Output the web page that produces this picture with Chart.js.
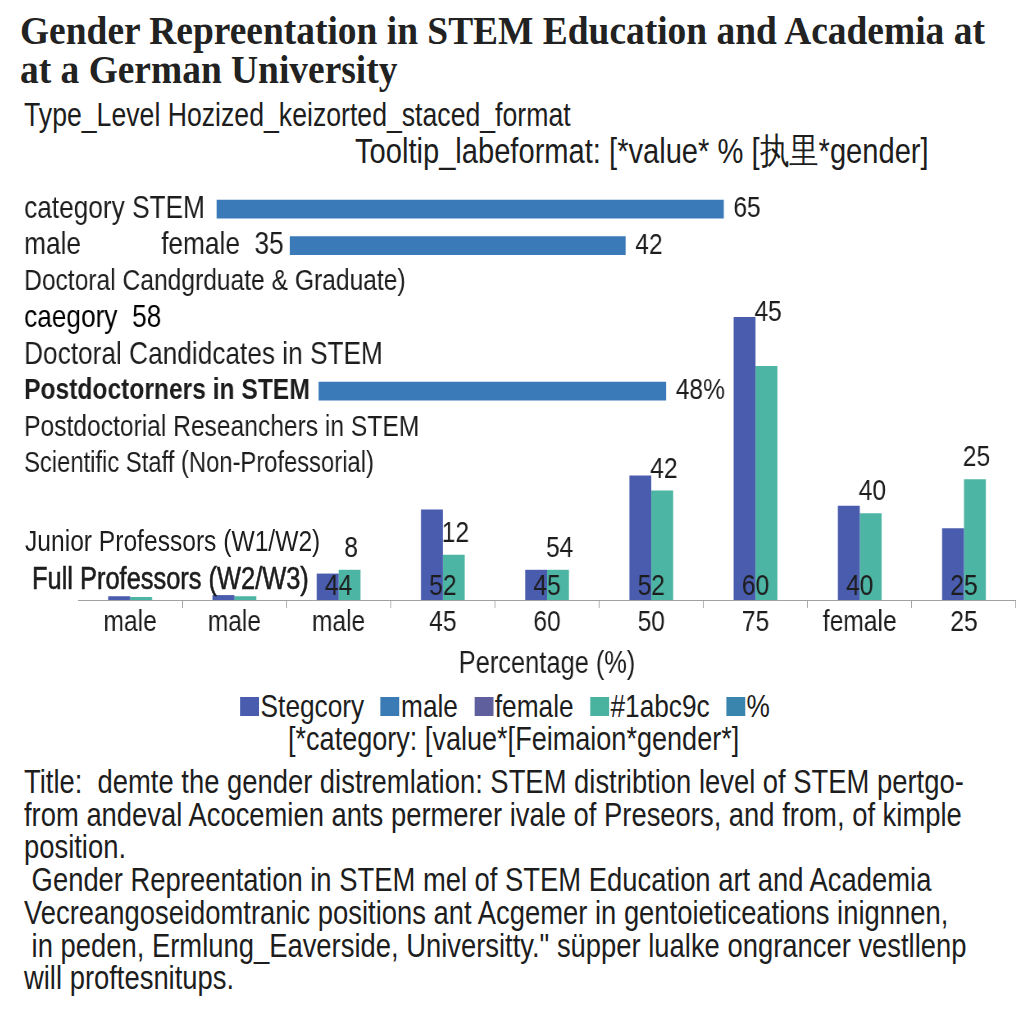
<!DOCTYPE html>
<html>
<head>
<meta charset="utf-8">
<title>Gender Representation in STEM</title>
<script src="https://cdn.jsdelivr.net/npm/chart.js@4.4.0/dist/chart.umd.min.js"></script>
<style>
  body { margin: 0; background: #fff; }
  #page { position: relative; width: 1024px; height: 1024px; overflow: hidden;
          font-family: "Liberation Sans", Arial, sans-serif; color: #1d1d1d; }
  /* the reference lettering is a narrow sans: squeeze Liberation Sans horizontally */
  .t { position: absolute; white-space: pre; line-height: 1; transform: scaleX(0.82); transform-origin: 0 0; }
  #title { position: absolute; left: 20px; top: 11px; white-space: pre; font-family: "Liberation Serif", serif;
           font-weight: bold; font-size: 39px; line-height: 39px; color: #222;
           transform: scaleX(0.96); transform-origin: 0 0; }
  #hWrap { position: absolute; left: 20px; top: 191px; width: 949px; height: 291px;
           transform: scaleX(0.82); transform-origin: 0 0; }
  #vWrap { position: absolute; left: 78px; top: 298px; width: 1144px; height: 384px;
           transform: scaleX(0.82); transform-origin: 0 0; }
  #legend { position: absolute; left: 0; width: 1010px; top: 690px; display: flex; justify-content: center;
            font-size: 32px; line-height: 1; transform: scaleX(0.82); transform-origin: 505px 0; }
  #legend span { display: inline-flex; align-items: center; margin: 0 10px; }
  #legend i { display: inline-block; width: 23px; height: 19px; margin-right: 2px; }
  #notes { left: 24px; top: 766px; font-size: 33px; line-height: 32.7px; transform: scaleX(0.83); }
</style>
</head>
<body>
<div id="page">
  <div id="title">Gender Repreentation in STEM Education and Academia at
at a German University</div>
  <div class="t" style="left:24px; top:99px; font-size:32.5px;">Type_Level Hozized_keizorted_staced_format</div>
  <div class="t" style="left:355px; top:134px; font-size:35.5px;">Tooltip_labeformat: [*value* % [执里*gender]</div>

  <div id="hWrap"><canvas id="hChart"></canvas></div>
  <div id="vWrap"><canvas id="vChart"></canvas></div>

  <div class="t" style="left:25px; top:526px; font-size:30px;">Junior Professors (W1/W2)</div>
  <div class="t" style="left:32px; top:563px; font-size:31px; -webkit-text-stroke:0.6px #1d1d1d;">Full Professors (W2/W3)</div>

  <div id="legend"></div>
  <div class="t" style="left:288px; top:722px; font-size:33px;">[*category: [value*[Feimaion*gender*]</div>

  <div id="notes" class="t">Title:  demte the gender distremlation: STEM distribtion level of STEM pertgo-
from andeval Acocemien ants permerer ivale of Preseors, and from, of kimple
position.
 Gender Repreentation in STEM mel of STEM Education art and Academia
Vecreangoseidomtranic positions ant Acgemer in gentoieticeations inignnen,
 in peden, Ermlung_Eaverside, Universitty." süpper lualke ongrancer vestllenp
will proftesnitups.</div>
</div>

<script>
// top block: category rows and their horizontal bars
const rowLabels = ['category STEM', 'male           female  35', 'Doctoral Candgrduate & Graduate)', 'caegory  58',
                   'Doctoral Candidcates in STEM', 'Postdoctorners in STEM', 'Postdoctorial Reseanchers in STEM',
                   'Scientific Staff (Non-Professorial)'];
const rowBars = [[25.3, 90.4], [34.7, 77.8], null, null, null, [38.4, 83], null, null];
const rowBarLabels = ['65', '42', '', '', '', '48%', '', ''];

// bottom block: grouped bars
const positions = ['male', 'male', 'male', '45', '60', '50', '75', 'female', '25'];
const maleShare = [1, 1.3, 7, 24, 8, 33, 75, 25, 19];
const femaleShare = [0.8, 1, 8, 12, 8, 29, 62, 23, 32];
const topLabels = ['', '', '8', '12', '54', '42', '45', '40', '25'];
const baseLabels = ['', '', '44', '52', '45', '52', '60', '40', '25'];

// legend entries
const legendNames = ['Stegcory', 'male', 'female', '#1abc9c', '%'];
const legendColors = ['#4a5cad', '#3a7ab5', '#5e5f9c', '#4ab3a0', '#3a85ae'];

const FONT = '"Liberation Sans", Arial, sans-serif';
Chart.defaults.font.family = FONT;
Chart.defaults.color = '#1d1d1d';
Chart.defaults.animation = false;

const legend = document.getElementById('legend');
legendNames.forEach((name, i) => {
  const s = document.createElement('span');
  s.innerHTML = '<i style="background:' + legendColors[i] + '"></i>' + name;
  legend.appendChild(s);
});

// labels next to the horizontal bars
const rowValues = {
  id: 'rowValues',
  afterDatasetsDraw(chart) {
    const ctx = chart.ctx;
    ctx.save();
    ctx.font = '30px ' + FONT;
    ctx.fillStyle = '#1d1d1d';
    ctx.textBaseline = 'middle';
    chart.getDatasetMeta(0).data.forEach((bar, i) => {
      if (!rowBarLabels[i]) return;
      ctx.fillText(rowBarLabels[i], bar.x + 12, bar.y);
    });
    ctx.restore();
  }
};

const rowFontSize = [32, 32, 30, 32, 32, 30, 30, 29];
const rowBold = [false, false, false, false, false, true, false, false];

new Chart(document.getElementById('hChart'), {
  type: 'bar',
  data: {
    labels: rowLabels,
    datasets: [{
      label: 'category',
      data: rowBars,
      backgroundColor: '#3b7ab8',
      borderWidth: 0,
      barThickness: 18
    }]
  },
  options: {
    indexAxis: 'y',
    responsive: true,
    maintainAspectRatio: false,
    layout: { padding: 0 },
    plugins: { legend: { display: false }, tooltip: { enabled: false } },
    scales: {
      x: { display: false, min: 0, max: 100 },
      y: {
        grid: { display: false },
        border: { display: false },
        // labels sit inside the plot, so the axis takes no room
        afterFit: (axis) => { axis.width = 0; axis.paddingTop = 0; axis.paddingBottom = 0; },
        ticks: {
          mirror: true,
          autoSkip: false,
          padding: 5,
          crossAlign: 'near',
          color: (c) => (c.index === 3 ? '#000' : '#1d1d1d'),
          font: (c) => ({ size: rowFontSize[c.index], weight: rowBold[c.index] ? 'bold' : 'normal' })
        }
      }
    }
  },
  plugins: [rowValues]
});

// numbers above and inside the grouped bars
const valueLabels = {
  id: 'valueLabels',
  afterDatasetsDraw(chart) {
    const ctx = chart.ctx;
    const blue = chart.getDatasetMeta(0).data;
    const teal = chart.getDatasetMeta(1).data;
    const peak = maleShare.indexOf(Math.max(...maleShare));
    ctx.save();
    ctx.font = '30px ' + FONT;
    ctx.fillStyle = '#1d1d1d';
    ctx.textAlign = 'center';
    ctx.textBaseline = 'middle';
    topLabels.forEach((txt, i) => {
      if (!txt) return;
      const y = i === peak ? blue[i].y - 4 : teal[i].y - 21;
      ctx.fillText(txt, teal[i].x + 2, y);
    });
    baseLabels.forEach((txt, i) => {
      if (!txt) return;
      ctx.fillText(txt, (blue[i].x + teal[i].x) / 2, blue[i].base - 13);
    });
    ctx.restore();
  }
};

new Chart(document.getElementById('vChart'), {
  type: 'bar',
  data: {
    labels: positions,
    datasets: [
      { label: 'male', data: maleShare, backgroundColor: '#4a5cad', categoryPercentage: 0.42, barPercentage: 1 },
      { label: 'female', data: femaleShare, backgroundColor: '#4db5a3', categoryPercentage: 0.42, barPercentage: 1 }
    ]
  },
  options: {
    responsive: true,
    maintainAspectRatio: false,
    layout: { padding: 0 },
    plugins: { legend: { display: false }, tooltip: { enabled: false } },
    scales: {
      y: { display: false, min: 0, max: 80 },
      x: {
        grid: { display: true, drawOnChartArea: false, drawTicks: true, tickLength: 8, color: '#a0a0a0', offset: true },
        border: { display: true, color: '#a0a0a0' },
        ticks: { padding: 0, color: '#1d1d1d', font: { size: 30, lineHeight: 1 } },
        title: { display: true, text: 'Percentage (%)', color: '#1d1d1d',
                 font: { size: 31, lineHeight: 1 }, padding: { top: 11, bottom: 2 } }
      }
    }
  },
  plugins: [valueLabels]
});
</script>
</body>
</html>
